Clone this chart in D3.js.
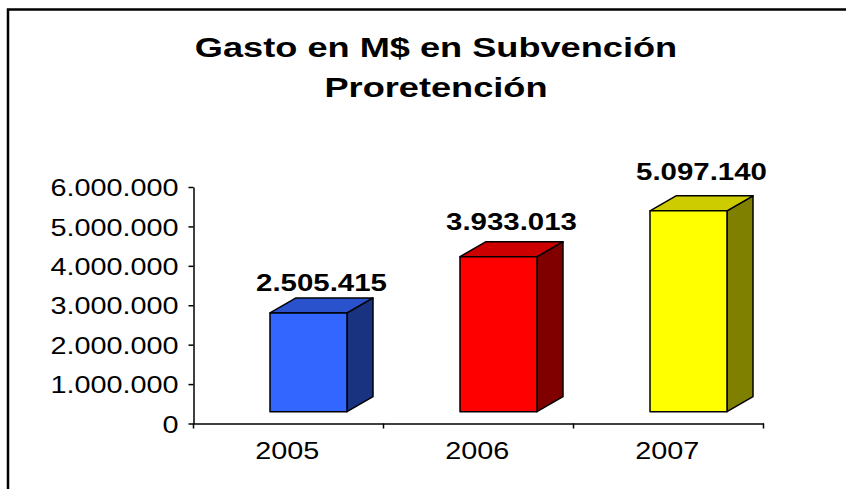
<!DOCTYPE html>
<html>
<head>
<meta charset="utf-8">
<script src="https://cdn.jsdelivr.net/npm/d3@7"></script>
<style>
  body { margin: 0; background: #fff; }
  text { font-family: "Liberation Sans", Arial, sans-serif; fill: #000; }
</style>
</head>
<body>
<div id="chart"></div>
<script>
// Data
const years = ["2005", "2006", "2007"];
const gasto = [2505415, 3933013, 5097140];
const yTicks = [0, 1000000, 2000000, 3000000, 4000000, 5000000, 6000000];
const titleLines = ["Gasto en M$ en Subvención", "Proretención"];
const fronts = ["#3366ff", "#ff0000", "#ffff00"];
const tops = ["#2952cc", "#cc0000", "#cccc00"];
const sides = ["#1a3380", "#800000", "#808000"];

const width = 846, height = 489;

const svg = d3.select("#chart")
    .append("svg")
    .attr("width", width)
    .attr("height", height);

svg.append("rect").attr("width", width).attr("height", height).attr("fill", "#fff");

// chart border (cut off on right and bottom like the original)
svg.append("path")
    .attr("d", `M8,${height} V9.5 H${width}`)
    .attr("fill", "none")
    .attr("stroke", "#000")
    .attr("stroke-width", 2.5);

// number format with dots
const loc = d3.formatLocale({decimal: ",", thousands: ".", grouping: [3], currency: ["$", ""]});
const fmt = loc.format(",d");

// scales
const x = d3.scaleBand().domain(years).range([193.5, 763.5]).padding(0);
const y = d3.scaleLinear().domain([0, 6000000]).range([423.5, 187]);

// title
svg.selectAll(".title")
    .data(titleLines)
    .enter().append("text")
    .attr("class", "title")
    .attr("transform", (d, i) => `translate(436,${57 + i * 40}) scale(1.34,1)`)
    .attr("text-anchor", "middle")
    .style("font-size", "27px")
    .style("font-weight", "bold")
    .text(d => d);

// y axis
const yAxis = svg.append("g")
    .attr("transform", `translate(${x.range()[0]},0)`)
    .call(d3.axisLeft(y).tickValues(yTicks).tickFormat(fmt).tickSize(5).tickSizeOuter(0));
yAxis.select(".domain").attr("stroke", "#000").attr("stroke-width", 1.5);
yAxis.selectAll(".tick line").attr("stroke", "#000").attr("stroke-width", 1.5);
yAxis.selectAll(".tick text")
    .attr("x", -15 / 1.2)
    .attr("dy", "0.36em")
    .attr("transform", "scale(1.2,1)")
    .style("font-size", "24px")
    .style("font-family", "'Liberation Sans', Arial, sans-serif")
    .attr("fill", "#000");

// x axis
const xAxis = svg.append("g")
    .attr("transform", `translate(0,${y(0)})`)
    .call(d3.axisBottom(x).tickSize(0).tickSizeOuter(0));
xAxis.select(".domain").attr("stroke", "#000").attr("stroke-width", 1.5);
xAxis.selectAll(".tick text")
    .attr("x", -1)
    .attr("y", 35.5)
    .attr("dy", 0)
    .attr("transform", "scale(1.2,1)")
    .style("font-size", "24px")
    .style("font-family", "'Liberation Sans', Arial, sans-serif")
    .attr("fill", "#000");
// boundary ticks between categories
const bounds = [x(years[0])].concat(years.map(d => x(d) + x.bandwidth()));
xAxis.selectAll(".bound")
    .data(bounds)
    .enter().append("line")
    .attr("class", "bound")
    .attr("x1", d => d).attr("x2", d => d)
    .attr("y1", 0).attr("y2", 5)
    .attr("stroke", "#000")
    .attr("stroke-width", 1.5);

// 3D bars
const barW = 77, dx = 26, dy = 15, floor = 11.8, shift = 20;
const data = years.map((yr, i) => ({year: yr, value: gasto[i], i: i}));

const bars = svg.selectAll(".bar")
    .data(data)
    .enter().append("g")
    .attr("class", "bar");

bars.each(function(d) {
    const g = d3.select(this);
    const x0 = x(d.year) + x.bandwidth() / 2 + shift - barW / 2;
    const x1 = x0 + barW;
    const yt = y(d.value) - floor;
    const yb = y(0) - floor;
    g.append("polygon")
        .attr("points", [[x1, yt], [x1 + dx, yt - dy], [x1 + dx, yb - dy], [x1, yb]].join(" "))
        .attr("fill", sides[d.i]);
    g.append("polygon")
        .attr("points", [[x0, yt], [x0 + dx, yt - dy], [x1 + dx, yt - dy], [x1, yt]].join(" "))
        .attr("fill", tops[d.i]);
    g.append("rect")
        .attr("x", x0).attr("y", yt)
        .attr("width", barW).attr("height", yb - yt)
        .attr("fill", fronts[d.i]);
    g.selectAll("polygon, rect")
        .attr("stroke", "#000")
        .attr("stroke-width", 1.5)
        .attr("stroke-linejoin", "round");
    // value label
    const lx = x0 + (barW + dx) / 2;
    const ly = yt - (12.4 + 3.7 * d.value / 1e6);
    g.append("text")
        .attr("transform", `translate(${lx},${ly}) scale(1.28,1)`)
        .attr("text-anchor", "middle")
        .style("font-size", "23px")
        .style("font-weight", "bold")
        .text(fmt(d.value));
});
</script>
</body>
</html>
